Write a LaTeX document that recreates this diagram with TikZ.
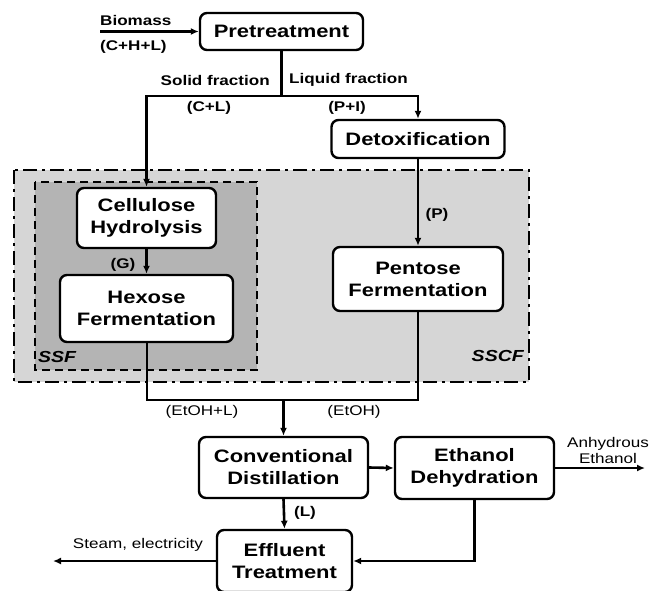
\documentclass[tikz,border=0pt]{standalone}
\usepackage{fontspec}
\setmainfont[FakeStretch=1.22]{Liberation Sans}
\usetikzlibrary{arrows.meta}
\definecolor{sscfgray}{RGB}{214,214,214}
\definecolor{ssfgray}{RGB}{180,180,180}
\begin{document}
\begin{tikzpicture}[x=1pt,y=-1pt,
  proc/.style={draw=black,line width=2.4pt,rounded corners=7pt,fill=white,align=center,
     inner sep=0pt,font=\fontsize{18}{22}\selectfont\bfseries},
  lbl/.style={inner sep=0pt,font=\fontsize{14}{16}\selectfont\bfseries},
  lblr/.style={inner sep=0pt,align=center,font=\fontsize{14}{16}\selectfont},
  flow/.style={line width=2.6pt},
  arr/.style={line width=2.6pt,-{Latex[length=8pt,width=7pt]}},
  thinflow/.style={line width=2pt}]
\clip (0,0) rectangle (651,590);
\useasboundingbox (0,0) rectangle (651,590);
% regions
\draw[fill=sscfgray,line width=2pt,dash pattern=on 14pt off 5pt on 3pt off 5pt] (14,170) rectangle (529,382);
\draw[fill=ssfgray,line width=2.2pt,dash pattern=on 8pt off 5pt] (35,182) rectangle (257,370);
\node[inner sep=0pt,anchor=west,font=\fontsize{16}{18}\selectfont\bfseries\itshape] (ssf) at (38,357) {SSF};
\node[inner sep=0pt,anchor=east,font=\fontsize{16}{18}\selectfont\bfseries\itshape] (sscf) at (524,356) {SSCF};
% boxes
\node[proc,minimum width=163pt,minimum height=37pt] (pre) at (281.5,31.5) {Pretreatment};
\node[proc,minimum width=173pt,minimum height=38pt] (detox) at (418,139) {Detoxification};
\node[proc,minimum width=139pt,minimum height=60pt] (cell) at (146.5,218) {Cellulose\\Hydrolysis};
\node[proc,minimum width=173pt,minimum height=67pt] (hex) at (146.5,308.5) {Hexose\\Fermentation};
\node[proc,minimum width=170pt,minimum height=64pt] (pent) at (418,279) {Pentose\\Fermentation};
\node[proc,minimum width=169pt,minimum height=61pt] (conv) at (283.5,467.5) {Conventional\\Distillation};
\node[proc,minimum width=159pt,minimum height=62pt] (dehyd) at (474.5,468) {Ethanol\\Dehydration};
\node[proc,minimum width=135pt,minimum height=62pt] (eff) at (284.5,561) {Effluent\\Treatment};
% coordinates
\coordinate (bio) at (100,31.5);
\coordinate (split) at (281.5,96);
\coordinate (join) at (283.5,400);
\coordinate (anh) at (645,468);
\coordinate (steam) at (53,561);
% connectors
\draw[arr] (bio) -- (pre.west);
\draw[flow] (pre.south) -- (split);
\draw[arr] (split) -| (cell.north);
\draw[arr] (split) -| (detox.north);
\draw[arr] (detox.south) -- (pent.north);
\draw[arr] (cell.south) -- (hex.north);
\draw[thinflow] (hex.south) |- (join);
\draw[flow] (pent.south) |- (join);
\draw[arr] (join) -- (conv.north);
\draw[arr] (conv.east) -- (dehyd.west);
\draw[arr] (dehyd.east) -- (anh);
\draw[arr] (conv.south) -- (eff.north);
\draw[arr] (dehyd.south) |- (eff.east);
\draw[arr] (eff.west) -- (steam);
% labels
\node[lbl,anchor=west] (lbio) at (100,20) {Biomass};
\node[lbl,anchor=west] (lchl) at (100,47) {(C+H+L)};
\node[lbl,anchor=east] (lsolid) at (270,80) {Solid fraction};
\node[lbl,anchor=west] (lliq) at (289,80) {Liquid fraction};
\node[lbl] (lcl) at (209,108) {(C+L)};
\node[lbl] (lpi) at (347,108) {(P+I)};
\node[lbl] (lg) at (123,265) {(G)};
\node[lbl] (lp) at (437,215) {(P)};
\node[lblr] (letohl) at (202,412) {(EtOH+L)};
\node[lblr] (letoh) at (354,412) {(EtOH)};
\node[lbl] (ll) at (305,513) {(L)};
\node[lblr] (lsteam) at (138,545) {Steam, electricity};
\node[lblr,font=\fontsize{14}{16}\selectfont] (lanh) at (608,450) {Anhydrous\\Ethanol};
\end{tikzpicture}
\end{document}
